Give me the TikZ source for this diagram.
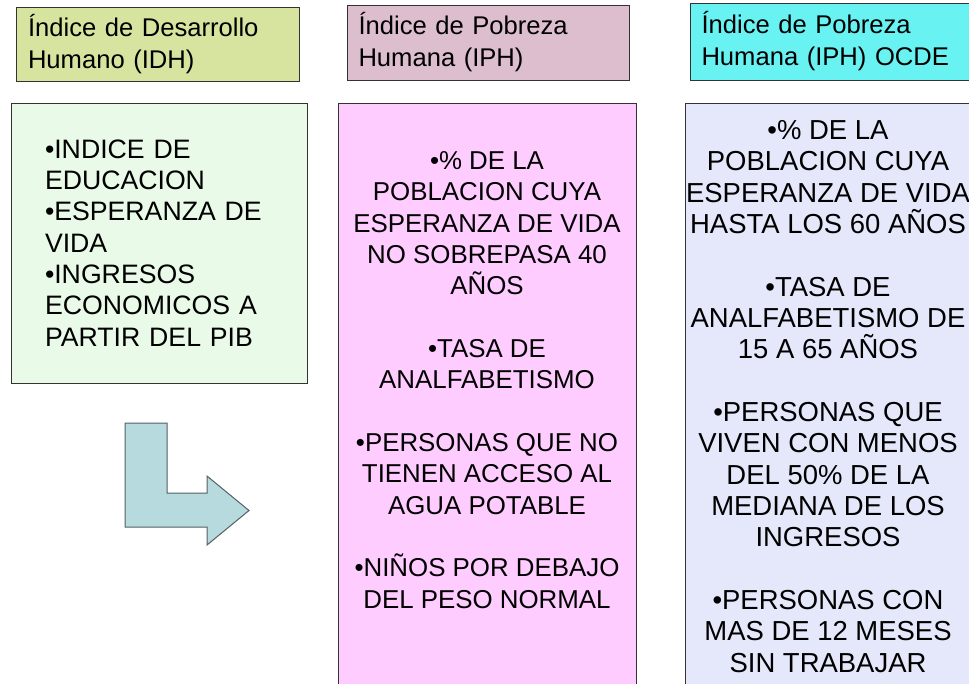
\documentclass[tikz,border=0pt]{standalone}
\usepackage{fontspec}
\setmainfont{Liberation Sans}
\usepackage{xcolor}
\definecolor{idhhead}{RGB}{215,228,160}
\definecolor{iphhead}{RGB}{221,190,206}
\definecolor{ocdehead}{RGB}{105,242,242}
\definecolor{idhbody}{RGB}{234,250,232}
\definecolor{iphbody}{RGB}{255,204,255}
\definecolor{ocdebody}{RGB}{229,232,250}
\definecolor{arrowfill}{RGB}{182,218,222}
\definecolor{arrowline}{RGB}{85,95,100}
\tikzset{every picture/.style={line width=0.75pt}}
\tikzset{
  headbox/.style={draw=black!80, rectangle, align=left, text width=195pt, inner xsep=8.5pt, inner ysep=0pt,
    font=\fontsize{19.2}{24}\selectfont},
  bodybox/.style={draw=black!80, rectangle, inner sep=0pt},
  bodytxt/.style={align=center, inner sep=0pt}
}

\begin{document}
\begin{tikzpicture}[x=0.75pt,y=0.75pt,yscale=-1,xscale=1]
\useasboundingbox (0,0) rectangle (969,683);

% Header boxes
\node [headbox, fill=idhhead, minimum height=55.5pt] (idh) at (158,44) {Índice de Desarrollo\\Humano (IDH)};
\node [headbox, fill=iphhead, minimum height=56.25pt] (iph) at (488.5,42.5) {Índice de Pobreza\\Humana (IPH)};
\node [headbox, fill=ocdehead, minimum height=57.75pt] (ocde) at (831.5,41.5) {Índice de Pobreza\\Humana (IPH) OCDE};

% Body boxes
\node [bodybox, fill=idhbody, align=left, text width=171pt, inner xsep=25.5pt, minimum height=210pt,
  font=\fontsize{20}{23.5}\selectfont] (idhbox) at (159,243)
  {•INDICE DE\\EDUCACION\\•ESPERANZA DE\\VIDA\\•INGRESOS\\ECONOMICOS A\\PARTIR DEL PIB};
\node [bodybox, fill=iphbody, minimum width=223.5pt, minimum height=450pt] (iphbox) at (487,403) {};
\node [bodybox, fill=ocdebody, minimum width=214.5pt, minimum height=450pt] (ocdebox) at (828,403) {};

% Text Node
\node [bodytxt, anchor=north, font=\fontsize{19.4}{23.5}\selectfont] (iphtxt) at (487,151)
  {•\% DE LA\\POBLACION CUYA\\ESPERANZA DE VIDA\\NO SOBREPASA 40\\AÑOS\\[23.5pt]
   •TASA DE\\ANALFABETISMO\\[23.5pt]
   •PERSONAS QUE NO\\TIENEN ACCESO AL\\AGUA POTABLE\\[23.5pt]
   •NIÑOS POR DEBAJO\\DEL PESO NORMAL};
% Text Node
\node [bodytxt, anchor=north, font=\fontsize{20.6}{23.5}\selectfont] (ocdetxt) at (828,120)
  {•\% DE LA\\POBLACION CUYA\\ESPERANZA DE VIDA\\HASTA LOS 60 AÑOS\\[23.5pt]
   •TASA DE\\ANALFABETISMO DE\\15 A 65 AÑOS\\[23.5pt]
   •PERSONAS QUE\\VIVEN CON MENOS\\DEL 50\% DE LA\\MEDIANA DE LOS\\INGRESOS\\[23.5pt]
   •PERSONAS CON\\MAS DE 12 MESES\\SIN TRABAJAR};

%Shape: Bent Arrow
\draw [draw=arrowline, fill=arrowfill] (125,423) -- (167,423) -- (167,493) -- (207,493) -- (207,476) -- (249,510.5) -- (207,545) -- (207,527) -- (125,527) -- cycle ;

\end{tikzpicture}
\end{document}
